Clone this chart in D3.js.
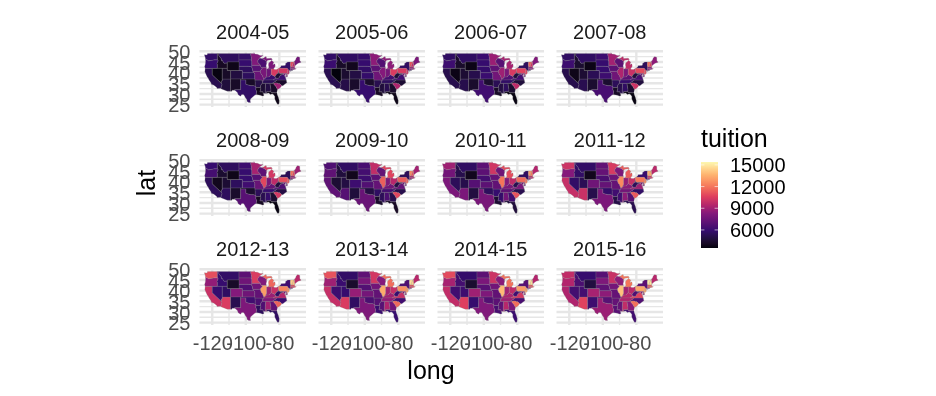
<!doctype html>
<html lang="en">
<head>
    <title>US tuition by state</title>
    <script src="https://d3js.org/d3.v7.min.js"></script>
    <style>
        body { margin: 0; background: #fff; }
        svg { filter: blur(0.4px); }
        text { font-family: "Liberation Sans", sans-serif; }
    </style>
</head>
<body>
<script>
// Academic years, one panel each
const years = ["2004-05", "2005-06", "2006-07", "2007-08", "2008-09", "2009-10",
               "2010-11", "2011-12", "2012-13", "2013-14", "2014-15", "2015-16"];

const states = ["AL","AZ","AR","CA","CO","CT","DE","FL","GA","ID","IL","IN","IA","KS","KY","LA",
                "ME","MD","MA","MI","MN","MS","MO","MT","NE","NV","NH","NJ","NM","NY","NC","ND",
                "OH","OK","OR","PA","RI","SC","SD","TN","TX","UT","VT","VA","WA","WV","WI","WY"];

// Average tuition per state, same order as states
const t0405 = [4900,4700,5000,5200,4800,7900,8200,3700,4200,4100,7900,7500,6900,5500,6000,3900,7700,8000,8700,8000,8200,4500,7500,5500,5500,3600,9700,9800,4200,5700,4300,5700,10400,4200,5900,10200,7700,8900,5900,5300,5700,4200,10900,6100,5700,4500,6500,3800];
const t0506 = [5200,5000,5200,5200,4900,8100,8300,3700,4300,4200,8300,7800,7000,5800,6300,4100,8000,8000,8800,8500,8500,4700,7600,5600,5700,3500,9900,10000,4300,5600,4500,5800,10500,4300,6000,10400,7900,9300,5900,5500,5900,4400,11100,6200,5700,4600,6700,3900];
const t0607 = [5500,5100,5300,5100,5100,8300,8400,3600,4400,4300,8900,8000,7100,6000,6700,4200,8200,7800,8500,9100,8800,4900,7700,5600,5800,3700,10300,10600,4300,5500,4700,6000,10400,4400,6100,10700,8100,9700,5900,5700,6200,4500,11500,6300,5600,4700,6900,3700];
const t0708 = [5600,5200,5400,5100,5300,8400,8500,3600,4400,4400,9300,8000,7000,6100,7000,4200,8500,7600,8400,9700,9000,5100,7600,5600,5900,3800,10600,10900,4400,5400,4800,6100,10000,4400,6100,10900,8400,10100,5900,5800,6400,4500,11800,6400,5600,4700,7000,3700];
const t0809 = [5800,5500,5400,5400,5500,8500,8400,3600,4400,4400,10800,7900,6800,6200,7300,4100,8900,7300,8700,10300,9100,5200,7400,5500,5900,3900,10900,11200,4300,5300,4900,6100,9700,4400,6300,11000,8600,10300,5900,5900,6900,4500,11900,6600,5900,4700,7100,3800];
const t0910 = [6500,6800,5600,7100,6100,8800,8800,4100,5100,4700,11400,8100,7000,6700,7700,4300,9000,7300,9300,10700,9800,5400,7300,5600,6100,4500,11200,11600,4700,5400,5100,6400,9500,4900,7100,11300,8800,10800,6300,6300,7400,4900,12500,7300,6600,4900,7300,3900];
const t1011 = [7700,8000,5900,8000,6800,9100,9200,4700,6200,5100,12000,8300,7300,7000,8000,4500,9400,7400,9800,10900,10200,5800,7200,5600,6300,5400,12100,12200,4800,5600,5200,7000,9700,5500,7700,11700,9200,11100,7000,7000,7900,5100,12900,8000,8900,5200,7600,3900];
const t1112 = [8500,10000,6200,9900,7600,9500,9700,5200,6900,5700,12500,8600,7500,7300,8400,5000,9600,7500,10400,11300,10400,6200,7300,5700,6500,5700,13300,12600,5100,5900,5700,7200,9900,5800,8300,12100,9700,11300,7300,7700,8000,5300,13500,8900,10100,5400,8000,3900];
const t1213 = [9000,10500,6500,10000,8300,9900,10100,5600,7200,5900,13000,8900,7700,7600,8800,5500,9600,7600,10900,11600,10500,6600,7200,5700,6600,5900,14000,12900,5200,6200,6000,7000,10000,6200,8600,12400,10300,11500,7600,8100,8100,5600,14300,9500,11000,5600,8200,4200];
const t1314 = [9300,10500,6800,9900,8700,10200,10600,5900,7700,6000,13400,9000,7700,7800,9000,6000,9500,7600,11000,11800,10300,6900,7200,5700,6700,6100,14400,13100,5600,6600,6200,7100,9900,6500,8900,12700,10600,11700,7900,8600,8100,5900,14800,9900,11100,5900,8300,4300];
const t1415 = [9500,10600,7000,9800,8900,10700,11000,6000,8000,6300,13800,9000,7700,8100,9200,6400,9400,7800,11200,11900,10100,7100,7200,5800,6900,6200,14700,13300,5900,6900,6400,7000,9700,6700,9100,13000,11100,11800,8000,8900,8200,6100,15000,10300,10900,6200,8400,4400];
const t1516 = [9800,10700,7300,9300,9100,11000,11400,6200,8400,6500,14000,9000,7800,8500,9500,6900,9500,8000,11500,12000,10000,7300,7300,5900,7100,6300,14900,13100,6100,7000,6700,6900,9600,6900,9400,13300,11500,11900,8100,9300,8800,6300,15100,10700,9800,6600,8500,4800];
const tuition = [t0405, t0506, t0607, t0708, t0809, t0910, t1011, t1112, t1213, t1314, t1415, t1516];

// State outlines as [long, lat] rings, same order as states
const outlines = [
  [[[-88.2,35],[-85.6,35],[-85.18,32.87],[-85,32.3],[-85,31],[-87.6,31],[-87.5,30.3],[-88.1,30.25],[-88.4,30.35],[-88.45,31.9]]],
  [[[-114.04,37],[-109.05,37],[-109.05,31.33],[-111.07,31.33],[-114.8,32.5],[-114.72,32.72],[-114.72,33.4],[-114.14,34.3],[-114.63,35],[-114.73,36.1],[-114.04,36.2]]],
  [[[-94.62,36.5],[-90.15,36.5],[-90.37,36],[-89.7,36],[-90.1,35],[-90.6,34.7],[-91.2,33.7],[-91.17,33],[-94.04,33],[-94.04,33.55],[-94.48,33.64],[-94.43,35.4]]],
  [[[-124.2,42],[-120,42],[-120,39],[-114.63,35],[-114.14,34.3],[-114.72,33.4],[-114.72,32.72],[-117.12,32.53],[-117.3,33],[-118.4,33.75],[-119.2,34.15],[-120.6,34.55],[-120.65,35.15],[-121.9,36.6],[-122.5,37.5],[-123,38],[-123.8,39.3],[-124.4,40.4]]],
  [[[-109.05,41],[-102.05,41],[-102.05,37],[-109.05,37]]],
  [[[-73.5,42.05],[-71.8,42.02],[-71.8,41.35],[-72.9,41.25],[-73.65,41],[-73.5,41.3]]],
  [[[-75.79,39.72],[-75.4,39.8],[-75.55,39.5],[-75.05,38.45],[-75.7,38.46]]],
  [[[-87.6,31],[-85,31],[-84.85,30.7],[-82.2,30.55],[-81.45,30.72],[-81.3,29.9],[-80.55,28.4],[-80.05,26.9],[-80.15,25.7],[-80.4,25.2],[-81.1,25.15],[-81.8,26.1],[-82.7,27.7],[-82.7,28.9],[-83.7,29.9],[-84.3,30.05],[-85.3,29.7],[-86.3,30.4],[-87.5,30.3]]],
  [[[-85.6,35],[-83.1,35],[-83.35,34.7],[-82,33.5],[-81.1,32.1],[-81.45,30.72],[-82.2,30.55],[-84.85,30.7],[-85,31],[-85,32.3],[-85.18,32.87]]],
  [[[-117.03,49],[-116.05,49],[-116.05,48],[-115.7,47.45],[-114.7,46.7],[-114.4,45.55],[-113.9,45.65],[-113.45,44.95],[-113,44.45],[-111.05,44.48],[-111.05,42],[-117.03,42],[-117.03,43.8],[-117.22,44.4],[-116.85,44.95],[-116.46,45.6],[-116.92,46],[-117.04,46.42]]],
  [[[-90.65,42.5],[-87.8,42.5],[-87.53,41.72],[-87.53,39.35],[-87.6,38.7],[-88.05,37.8],[-88.45,37.2],[-89.15,36.98],[-89.5,37.3],[-90.2,38.75],[-90.7,39],[-91.4,40.4],[-91.1,41.2],[-90.15,41.8],[-91.1,42.7]]],
  [[[-87.53,41.72],[-87.2,41.76],[-84.8,41.76],[-84.82,39.1],[-85.4,38.7],[-86,38],[-87,37.9],[-88.05,37.8],[-87.6,38.7],[-87.53,39.35]]],
  [[[-96.45,43.5],[-91.2,43.5],[-91.1,42.7],[-90.15,41.8],[-91.1,41.2],[-91.4,40.4],[-91.75,40.6],[-95.77,40.58],[-96.1,41.7],[-96.45,42.5]]],
  [[[-102.05,40],[-95.3,40],[-94.9,39.8],[-94.6,39.1],[-94.62,37],[-102.05,37]]],
  [[[-89.15,36.98],[-89.5,36.5],[-88.05,36.5],[-83.68,36.6],[-81.97,37.54],[-82.6,38.17],[-83.7,38.65],[-84.82,39.1],[-85.4,38.7],[-86,38],[-87,37.9],[-88.05,37.8],[-88.45,37.2]]],
  [[[-94.04,33],[-91.17,33],[-91,32.4],[-91.6,31],[-89.75,31],[-89.6,30.2],[-89.4,29.9],[-89.2,29.2],[-90.2,29.1],[-91.3,29.4],[-92.2,29.55],[-93.85,29.7],[-93.55,31.2],[-94.04,32]]],
  [[[-71.08,45.3],[-70.3,45.9],[-70,46.7],[-69.23,47.46],[-68.3,47.36],[-67.8,47.07],[-67.8,45.7],[-67,44.85],[-68.8,44.4],[-70.2,43.6],[-70.7,43.07],[-70.98,43.4]]],
  [[[-79.48,39.72],[-75.79,39.72],[-75.7,38.46],[-75.05,38.45],[-75.25,38.03],[-75.9,37.95],[-76,39.5],[-76.5,38.9],[-76.35,38.1],[-77.05,38.4],[-77.05,38.85],[-77.5,39.1],[-77.75,39.33],[-78.4,39.62],[-79.48,39.2]]],
  [[[-73.25,42.75],[-71.3,42.7],[-70.8,42.87],[-70.6,42.65],[-71,42.3],[-70.55,41.8],[-70.05,42.05],[-69.95,41.7],[-70.6,41.55],[-71.15,41.5],[-71.38,42.02],[-71.8,42.02],[-73.5,42.05]]],
  [[[-86.8,41.76],[-84.8,41.73],[-83.45,41.73],[-83.1,42.2],[-82.45,43],[-82.6,44],[-83,44.07],[-83.9,43.65],[-83.3,44.9],[-84.7,45.75],[-85.5,45],[-86.3,44.6],[-86.5,43.6],[-86.2,42.5]],
   [[-90.4,46.55],[-89.1,46.95],[-88.4,47.4],[-87.8,47.45],[-87.6,46.6],[-85,46.75],[-84.4,46.5],[-84.2,46],[-85.6,45.95],[-87,45.75],[-87.6,45.1],[-87.8,45.35],[-89.1,46.15]]],
  [[[-97.23,49],[-95.15,49],[-95.15,49.38],[-94.6,48.7],[-93,48.6],[-91.5,48.07],[-89.6,48],[-92.05,46.7],[-92.3,46.1],[-92.9,45.6],[-92.75,44.75],[-91.2,43.5],[-96.45,43.5],[-96.45,45.3],[-96.85,45.6],[-96.56,45.94],[-96.85,47.6]]],
  [[[-90.1,35],[-88.2,35],[-88.45,31.9],[-88.4,30.35],[-89.6,30.2],[-89.75,31],[-91.6,31],[-91,32.4],[-91.17,33],[-91.2,33.7],[-90.6,34.7]]],
  [[[-95.77,40.58],[-91.75,40.6],[-91.4,40.4],[-90.7,39],[-90.2,38.75],[-89.5,37.3],[-89.15,36.98],[-89.7,36],[-90.37,36],[-90.15,36.5],[-94.62,36.5],[-94.62,37],[-94.6,39.1],[-94.9,39.8],[-95.3,40]]],
  [[[-116.05,49],[-104.05,49],[-104.05,45],[-111.05,45],[-111.05,44.48],[-113,44.45],[-113.45,44.95],[-113.9,45.65],[-114.4,45.55],[-114.7,46.7],[-115.7,47.45],[-116.05,48]]],
  [[[-104.05,43],[-98.5,43],[-97.2,42.85],[-96.45,42.5],[-96.1,41.7],[-95.77,40.58],[-95.3,40],[-102.05,40],[-102.05,41],[-104.05,41]]],
  [[[-120,42],[-114.04,42],[-114.04,36.2],[-114.73,36.1],[-114.63,35],[-120,39]]],
  [[[-71.5,45],[-71.08,45.3],[-70.98,43.4],[-70.7,43.07],[-70.8,42.87],[-71.3,42.7],[-72.46,42.73],[-72.45,43],[-72.05,44.1],[-71.6,44.5]]],
  [[[-74.7,41.36],[-73.9,40.95],[-74.25,40.5],[-74,40.3],[-74.1,39.75],[-74.9,38.95],[-75.55,39.5],[-74.72,40.15],[-75.1,40.5],[-75.13,40.98]]],
  [[[-109.05,37],[-103,37],[-103.05,32],[-106.62,32],[-106.53,31.78],[-108.2,31.78],[-108.2,31.33],[-109.05,31.33]]],
  [[[-79.76,42.27],[-79.05,42.7],[-79.05,43.27],[-76.8,43.3],[-76.2,43.6],[-76.4,44.15],[-75,44.95],[-73.35,45],[-73.4,43.6],[-73.25,42.75],[-73.5,42.05],[-73.5,41.3],[-73.65,41],[-73.9,40.95],[-74.7,41.36],[-75.35,42],[-79.76,42]],
   [[-74,40.6],[-73.75,40.85],[-72.3,41.15],[-71.9,41.05],[-73.5,40.6]]],
  [[[-84.3,35],[-83.1,35],[-82.3,35.2],[-81.05,35.1],[-80.8,34.82],[-79.67,34.8],[-78.55,33.86],[-77.9,33.9],[-76.6,34.7],[-75.5,35.25],[-75.87,36.55],[-81.68,36.59],[-82,36.1]]],
  [[[-104.05,49],[-97.23,49],[-96.85,47.6],[-96.56,45.94],[-104.05,45.94]]],
  [[[-84.8,41.73],[-83.45,41.73],[-82.7,41.5],[-81.7,41.5],[-80.52,41.98],[-80.52,40.64],[-80.87,39.7],[-81.7,39.2],[-82.2,38.6],[-82.6,38.17],[-83.7,38.65],[-84.82,39.1]]],
  [[[-103,37],[-94.62,37],[-94.43,35.4],[-94.48,33.64],[-95.5,33.9],[-97,33.85],[-98,34.1],[-99.2,34.3],[-100,34.56],[-100,36.5],[-103,36.5]]],
  [[[-124.05,46.27],[-123.4,46.2],[-122.8,45.9],[-122.3,45.55],[-121.2,45.65],[-119.3,45.93],[-118.98,46],[-116.92,46],[-116.46,45.6],[-116.85,44.95],[-117.22,44.4],[-117.03,43.8],[-117.03,42],[-124.2,42],[-124.55,42.84],[-124.1,44],[-123.95,45.5]]],
  [[[-80.52,41.98],[-79.76,42.27],[-79.76,42],[-75.35,42],[-74.7,41.36],[-75.13,40.98],[-75.1,40.5],[-74.72,40.15],[-75.4,39.8],[-75.79,39.72],[-80.52,39.72],[-80.52,40.64]]],
  [[[-71.8,42.02],[-71.38,42.02],[-71.15,41.5],[-71.8,41.35]]],
  [[[-83.1,35],[-82.3,35.2],[-81.05,35.1],[-80.8,34.82],[-79.67,34.8],[-78.55,33.86],[-79.2,33.2],[-80,32.6],[-81.1,32.1],[-82,33.5],[-83.35,34.7]]],
  [[[-104.05,45.94],[-96.56,45.94],[-96.85,45.6],[-96.45,45.3],[-96.45,43.5],[-96.45,42.5],[-97.2,42.85],[-98.5,43],[-104.05,43]]],
  [[[-89.7,36],[-89.5,36.5],[-88.05,36.5],[-83.68,36.6],[-81.68,36.59],[-82,36.1],[-84.3,35],[-90.1,35]]],
  [[[-106.62,32],[-103.05,32],[-103,36.5],[-100,36.5],[-100,34.56],[-99.2,34.3],[-98,34.1],[-97,33.85],[-95.5,33.9],[-94.48,33.64],[-94.04,33.55],[-94.04,32],[-93.55,31.2],[-93.85,29.7],[-94.7,29.4],[-95.9,28.6],[-97.2,27.7],[-97.4,26.8],[-97.15,25.96],[-98.2,26.05],[-99.1,26.4],[-99.5,27.5],[-100.3,28.3],[-100.7,29.1],[-101.4,29.77],[-102.4,29.77],[-103.15,28.98],[-104.5,29.65],[-105,30.65],[-106.53,31.78]]],
  [[[-114.04,42],[-111.05,42],[-111.05,41],[-109.05,41],[-109.05,37],[-114.04,37]]],
  [[[-73.35,45],[-71.5,45],[-71.6,44.5],[-72.05,44.1],[-72.45,43],[-72.46,42.73],[-73.25,42.75],[-73.4,43.6]]],
  [[[-83.68,36.6],[-75.87,36.55],[-76,36.9],[-76.3,37.6],[-76.35,38.1],[-77.05,38.4],[-77.05,38.85],[-77.5,39.1],[-77.8,39.13],[-78.35,39.4],[-78.9,38.8],[-79.65,38.55],[-80.3,37.5],[-81.3,37.3],[-81.97,37.54]]],
  [[[-124.7,48.4],[-123.1,48.2],[-122.8,49],[-117.03,49],[-117.04,46.42],[-116.92,46],[-118.98,46],[-119.3,45.93],[-121.2,45.65],[-122.3,45.55],[-122.8,45.9],[-123.4,46.2],[-124.05,46.27],[-124.1,46.9]]],
  [[[-81.97,37.54],[-81.3,37.3],[-80.3,37.5],[-79.65,38.55],[-78.9,38.8],[-78.35,39.4],[-77.8,39.13],[-77.75,39.33],[-78.4,39.62],[-79.48,39.2],[-79.48,39.72],[-80.52,39.72],[-80.52,40.64],[-80.87,39.7],[-81.7,39.2],[-82.2,38.6],[-82.6,38.17]]],
  [[[-92.05,46.7],[-90.8,46.75],[-90.4,46.55],[-89.1,46.15],[-87.8,45.35],[-87.6,45.1],[-88,44.55],[-87.4,44.9],[-87.9,43.2],[-87.8,42.5],[-90.65,42.5],[-91.1,42.7],[-91.2,43.5],[-92.75,44.75],[-92.9,45.6],[-92.3,46.1]]],
  [[[-111.05,45],[-104.05,45],[-104.05,41],[-111.05,41]]]
];

const xTicks = [-120, -100, -80];
const xMinor = [-110, -90];
const yTicks = [25, 30, 35, 40, 45, 50];
const yMinor = [27.5, 32.5, 37.5, 42.5, 47.5];
const legendTicks = [6000, 9000, 12000, 15000];

const colorStops = [0, 0.2, 0.4, 0.5, 0.6, 0.72, 0.85, 1];
const colorRange = ["#03020c", "#350c6e", "#83197b", "#b5266c", "#df3f5f", "#f6775a", "#feb36f", "#fdf8b0"];
const tuitionMin = 3500, tuitionMax = 15400;

const width = 936, height = 396;
const panelW = 106.5, panelH = 57;
const panelX = [199.5, 318.5, 437.5, 556.5];
const panelY = [50, 159, 268];

const svg = d3.select("body").append("svg")
    .attr("width", width)
    .attr("height", height);

// Same scales in every panel, only the translate changes
const x = d3.scaleLinear().domain([-127.6, -64.1]).range([0, panelW]);
const y = d3.scaleLinear().domain([23.9, 50.6]).range([panelH, 0]);

const color = d3.scaleLinear()
    .domain(colorStops.map(function (t) { return tuitionMin + t * (tuitionMax - tuitionMin); }))
    .range(colorRange)
    .interpolate(d3.interpolateLab);

const ring = d3.line()
    .x(function (d) { return x(d[0]); })
    .y(function (d) { return y(d[1]); });

years.forEach(function (year, i) {
    const col = i % 4, row = Math.floor(i / 4);
    const g = svg.append("g")
        .attr("transform", "translate(" + panelX[col] + "," + panelY[row] + ")");

    // Grid
    g.selectAll(".minorx").data(xMinor).enter().append("line")
        .attr("x1", x).attr("x2", x).attr("y1", 0).attr("y2", panelH)
        .attr("stroke", "#e6e6e6").attr("stroke-width", 1.4);
    g.selectAll(".minory").data(yMinor).enter().append("line")
        .attr("y1", y).attr("y2", y).attr("x1", 0).attr("x2", panelW)
        .attr("stroke", "#e6e6e6").attr("stroke-width", 1.4);
    g.selectAll(".majorx").data(xTicks).enter().append("line")
        .attr("x1", x).attr("x2", x).attr("y1", 0).attr("y2", panelH)
        .attr("stroke", "#e6e6e6").attr("stroke-width", 2.4);
    g.selectAll(".majory").data(yTicks).enter().append("line")
        .attr("y1", y).attr("y2", y).attr("x1", 0).attr("x2", panelW)
        .attr("stroke", "#e6e6e6").attr("stroke-width", 2.4);

    // States
    g.selectAll("path.state").data(states).enter().append("path")
        .attr("class", "state")
        .attr("d", function (d, s) {
            return outlines[s].map(function (r) { return ring(r) + "Z"; }).join("");
        })
        .attr("fill", function (d, s) { return color(tuition[i][s]); })
        .attr("stroke", "#808080")
        .attr("stroke-width", 0.25);

    // Facet title
    g.append("text")
        .attr("x", panelW / 2)
        .attr("y", row === 0 ? -11.5 : -12)
        .attr("text-anchor", "middle")
        .attr("font-size", 20)
        .attr("fill", "#1a1a1a")
        .text(year);

    // Axes only on the outer panels
    if (col === 0) {
        const yAxis = g.append("g")
            .call(d3.axisLeft(y).tickValues(yTicks).tickSize(0).tickPadding(9));
        yAxis.select(".domain").remove();
        yAxis.selectAll("text").attr("font-size", 20).attr("fill", "#4d4d4d")
            .attr("dy", "0.36em")
            .attr("font-family", "Liberation Sans");
    }
    if (row === 2) {
        const xAxis = g.append("g")
            .attr("transform", "translate(0," + panelH + ")")
            .call(d3.axisBottom(x).tickValues(xTicks).tickSize(0).tickPadding(11)
                .tickFormat(function (d) { return d; }));
        xAxis.select(".domain").remove();
        xAxis.selectAll("text").attr("font-size", 20).attr("fill", "#4d4d4d")
            .attr("font-family", "Liberation Sans");
    }
});

// Axis titles
svg.append("text")
    .attr("x", 431).attr("y", 379)
    .attr("text-anchor", "middle")
    .attr("font-size", 25)
    .text("long");
svg.append("text")
    .attr("transform", "translate(155,183) rotate(-90)")
    .attr("text-anchor", "middle")
    .attr("font-size", 25)
    .text("lat");

// Colour bar
const barX = 701, barW = 17, barTop = 162, barH = 86;
const barScale = d3.scaleLinear().domain([tuitionMin, tuitionMax]).range([barTop + barH, barTop]);
svg.append("text")
    .attr("x", barX).attr("y", 147)
    .attr("font-size", 25)
    .text("tuition");

const defs = svg.append("defs");
const grad = defs.append("linearGradient")
    .attr("id", "bar")
    .attr("x1", 0).attr("x2", 0).attr("y1", 1).attr("y2", 0);
grad.selectAll("stop").data(d3.range(0, 1.01, 0.05)).enter().append("stop")
    .attr("offset", function (d) { return d; })
    .attr("stop-color", function (d) { return color(tuitionMin + d * (tuitionMax - tuitionMin)); });
svg.append("rect")
    .attr("x", barX).attr("y", barTop)
    .attr("width", barW).attr("height", barH)
    .attr("fill", "url(#bar)");

svg.selectAll(".ltick").data(legendTicks).enter().append("line")
    .attr("x1", barX).attr("x2", barX + 3.4)
    .attr("y1", barScale).attr("y2", barScale)
    .attr("stroke", "#fff").attr("stroke-opacity", 0.6);
svg.selectAll(".rtick").data(legendTicks).enter().append("line")
    .attr("x1", barX + barW - 3.4).attr("x2", barX + barW)
    .attr("y1", barScale).attr("y2", barScale)
    .attr("stroke", "#fff").attr("stroke-opacity", 0.6);
svg.selectAll(".llabel").data(legendTicks).enter().append("text")
    .attr("x", barX + barW + 12)
    .attr("y", barScale)
    .attr("dy", "0.35em")
    .attr("font-size", 20)
    .text(function (d) { return d; });
</script>
</body>
</html>
